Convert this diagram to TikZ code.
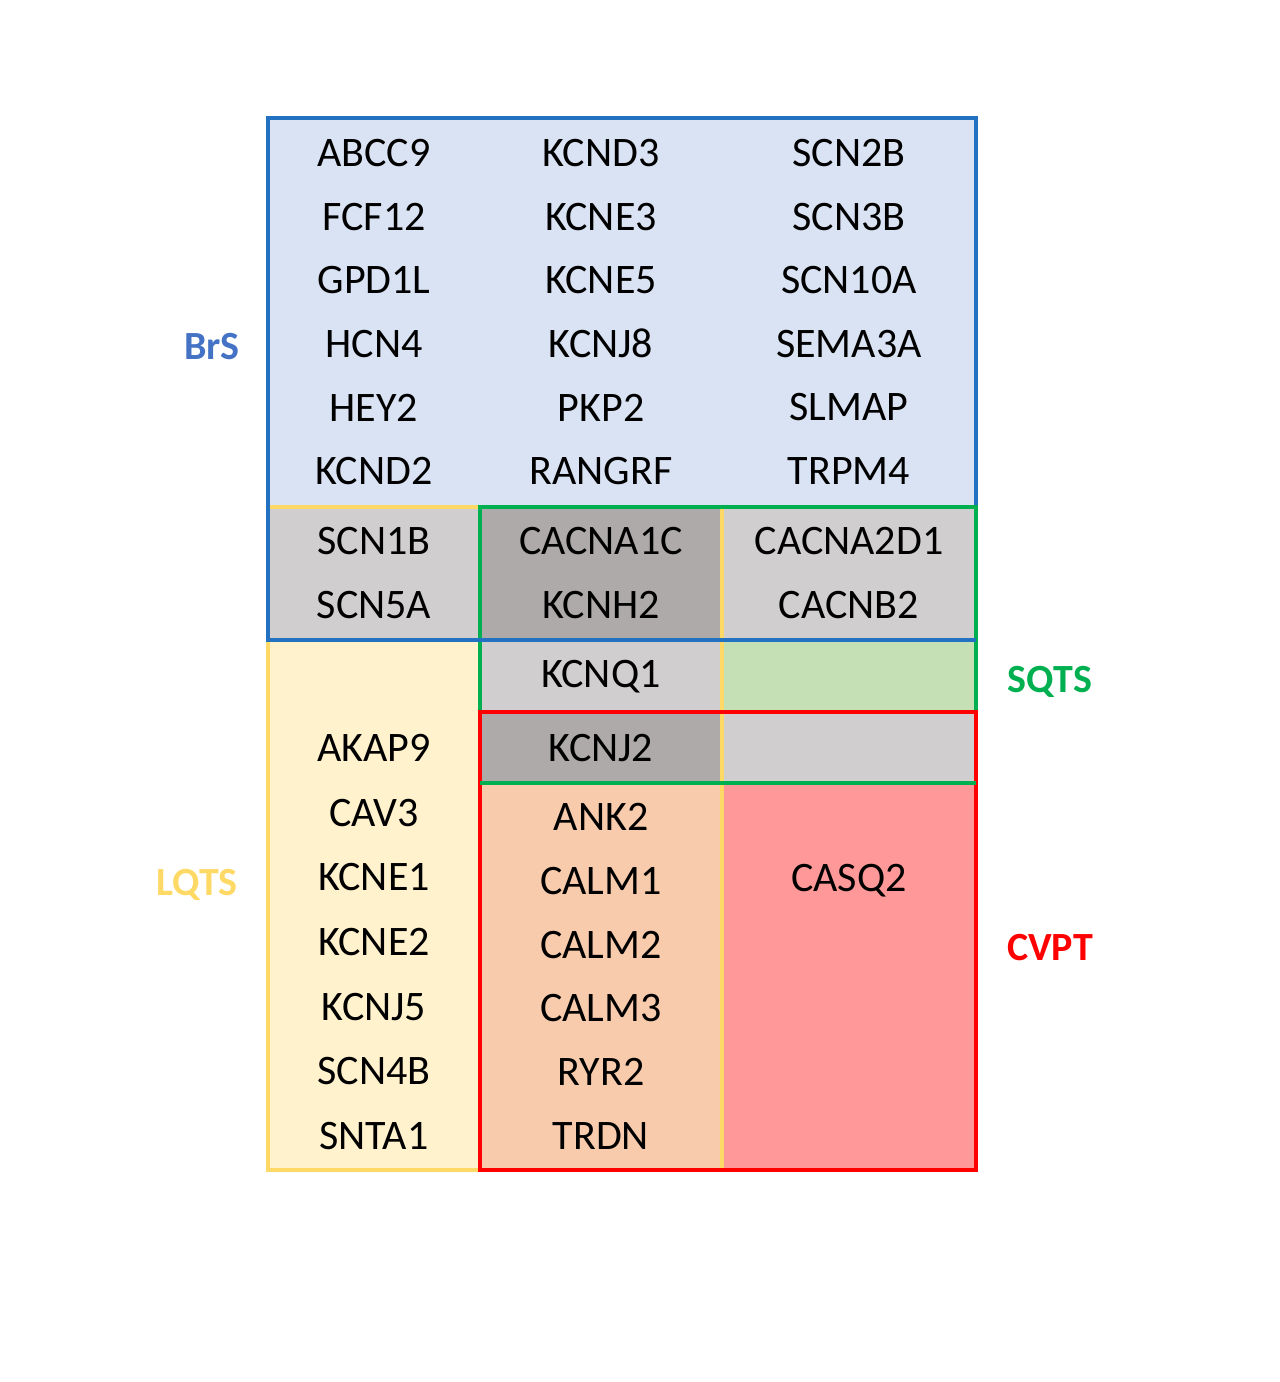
\documentclass[tikz,border=0pt]{standalone}
\usepackage{fontspec}
\setmainfont{Carlito}
\definecolor{lblue}{HTML}{DAE3F3}
\definecolor{lgray}{HTML}{D0CECE}
\definecolor{dgray}{HTML}{AEAAAA}
\definecolor{lyel}{HTML}{FFF2CC}
\definecolor{lgreen}{HTML}{C5E0B4}
\definecolor{lorange}{HTML}{F8CBAD}
\definecolor{lpink}{HTML}{FF9999}
\definecolor{bblue}{HTML}{2372C2}
\definecolor{byel}{HTML}{FFD966}
\definecolor{bgreen}{HTML}{00B050}
\definecolor{bred}{HTML}{FF0000}
\definecolor{tblue}{HTML}{4472C4}
\begin{document}
\begin{tikzpicture}[x=1pt,y=-1pt,
  g/.style={font=\fontsize{42}{50}\selectfont,text=black},
  lab/.style={font=\fontsize{40}{48}\selectfont\bfseries},
  bd/.style={line width=3.5pt}]
\useasboundingbox (0,0) rectangle (1280,1382);
% fills
\fill[lblue] (268,118) rectangle (976,507);
\fill[lgray] (268,507) rectangle (480,640);
\fill[dgray] (480,507) rectangle (720,640);
\fill[lgray] (720,507) rectangle (976,640);
\fill[lyel] (268,640) rectangle (480,1170);
\fill[lgray] (480,640) rectangle (720,712);
\fill[lgreen] (720,640) rectangle (976,712);
\fill[dgray] (480,712) rectangle (720,783);
\fill[lgray] (720,712) rectangle (976,783);
\fill[lorange] (480,783) rectangle (722,1170);
\fill[lpink] (722,783) rectangle (976,1170);
% borders
\draw[bd,byel] (268,507) rectangle (722,1170);
\draw[bd,bblue] (268,118) rectangle (976,640);
\draw[bd,bgreen] (480,507) rectangle (976,783);
\draw[bd,bblue] (268,640) -- (976,640);
\draw[bd,bred] (480,712) rectangle (976,1170);
\draw[bd,bgreen] (480,783) -- (976,783);
\draw[bd,byel] (722,785) -- (722,1168);
% texts
\foreach \t [count=\i] in {ABCC9,FCF12,GPD1L,HCN4,HEY2,KCND2}
  \node[g] (a\i) at (374,{153+63.6*(\i-1)}) {\t};
\foreach \t [count=\i] in {KCND3,KCNE3,KCNE5,KCNJ8,PKP2,RANGRF}
  \node[g] (b\i) at (601,{153+63.6*(\i-1)}) {\t};
\foreach \t [count=\i] in {SCN2B,SCN3B,SCN10A,SEMA3A,SLMAP,TRPM4}
  \node[g] (c\i) at (849,{153+63.6*(\i-1)}) {\t};
\node[g] (d1) at (374,541) {SCN1B};
\node[g] (d2) at (374,605) {SCN5A};
\node[g] (e1) at (601,541) {CACNA1C};
\node[g] (e2) at (601,605) {KCNH2};
\node[g] (f1) at (849,541) {CACNA2D1};
\node[g] (f2) at (849,605) {CACNB2};
\node[g] (q1) at (601,677) {KCNQ1};
\node[g] (q2) at (601,748) {KCNJ2};
\foreach \t [count=\i] in {AKAP9,CAV3,KCNE1,KCNE2,KCNJ5,SCN4B,SNTA1}
  \node[g] (l\i) at (374,{748+64.7*(\i-1)}) {\t};
\foreach \t [count=\i] in {ANK2,CALM1,CALM2,CALM3,RYR2,TRDN}
  \node[g] (r\i) at (601,{817+63.8*(\i-1)}) {\t};
\node[g] (cs) at (849,881) {CASQ2};
% labels
\node[lab,text=tblue] (brs) at (212,347) {BrS};
\node[lab,text=byel] (lqts) at (197,885) {LQTS};
\node[lab,text=bgreen] (sqts) at (1050,682) {SQTS};
\node[lab,text=bred] (cvpt) at (1050,948) {CVPT};
\end{tikzpicture}
\end{document}
